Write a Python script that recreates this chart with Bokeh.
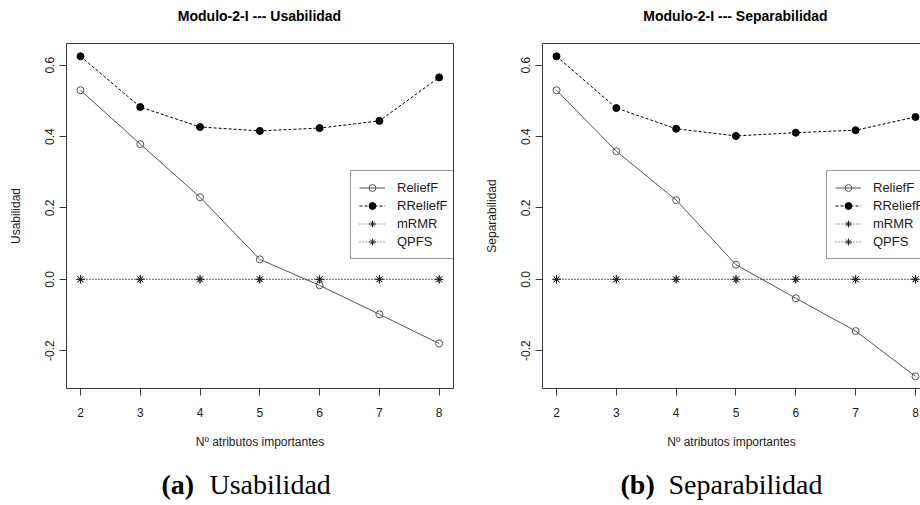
from bokeh.plotting import figure
from bokeh.layouts import row, column
from bokeh.models import (FixedTicker, Legend, LegendItem, LinearAxis, Range1d)
from bokeh.core.properties import value
from bokeh.embed import file_html
from bokeh.resources import INLINE

# ---- data ----
x_attr = [2, 3, 4, 5, 6, 7, 8]
x_tick_labels = ["2", "3", "4", "5", "6", "7", "8"]
y_ticks = [-0.2, 0.0, 0.2, 0.4, 0.6]
y_tick_labels = ["-0.2", "0.0", "0.2", "0.4", "0.6"]
series_names = ["ReliefF", "RReliefF", "mRMR", "QPFS"]

usab_relieff = [0.530, 0.379, 0.230, 0.056, -0.017, -0.098, -0.180]
usab_rrelieff = [0.625, 0.483, 0.427, 0.416, 0.424, 0.444, 0.566]
usab_mrmr = [0.0, 0.0, 0.0, 0.0, 0.0, 0.0, 0.0]
usab_qpfs = [0.0, 0.0, 0.0, 0.0, 0.0, 0.0, 0.0]

sep_relieff = [0.530, 0.359, 0.222, 0.041, -0.053, -0.145, -0.272]
sep_rrelieff = [0.625, 0.480, 0.422, 0.402, 0.411, 0.418, 0.455]
sep_mrmr = [0.0, 0.0, 0.0, 0.0, 0.0, 0.0, 0.0]
sep_qpfs = [0.0, 0.0, 0.0, 0.0, 0.0, 0.0, 0.0]

panel_titles = ["Modulo-2-I --- Usabilidad", "Modulo-2-I --- Separabilidad"]
panel_ylabels = ["Usabilidad", "Separabilidad"]
x_label = "Nº atributos importantes"
captions_tag = ["(a)", "(b)"]
captions_text = ["Usabilidad", "Separabilidad"]

SANS = "Liberation Sans"
SERIF = "Liberation Serif"
BOX = "#3a3a3a"
TXT = "#1a1a1a"
HEAD_H = 30
PANEL_H = 430
CAP_H = 45
FRAME_TOP = 43
FRAME_BOTTOM = 388


def make_panel(ylabel, relieff, rrelieff, mrmr, qpfs, frame_left, x_start, x_end,
               border_right, full_box):
    p = figure(width=460, height=PANEL_H, output_backend="svg", toolbar_location=None,
               x_range=Range1d(x_start, x_end), y_range=Range1d(-0.306, 0.661),
               min_border_left=frame_left, min_border_right=border_right,
               min_border_top=FRAME_TOP - HEAD_H,
               min_border_bottom=HEAD_H + PANEL_H - FRAME_BOTTOM)
    p.background_fill_color = "white"
    p.border_fill_color = "white"
    p.grid.visible = False

    xax = p.below[0]
    yax = p.left[0]
    xax.ticker = FixedTicker(ticks=x_attr)
    xax.major_label_overrides = {t: s for t, s in zip(x_attr, x_tick_labels)}
    yax.ticker = FixedTicker(ticks=y_ticks)
    yax.major_label_overrides = {t: s for t, s in zip(y_ticks, y_tick_labels)}
    for ax in (xax, yax):
        ax.major_tick_out = 7
        ax.major_tick_in = 0
        ax.minor_tick_out = 0
        ax.minor_tick_in = 0
        ax.major_tick_line_color = BOX
        ax.major_label_text_font = SANS
        ax.major_label_text_font_size = "12px"
        ax.major_label_text_color = TXT
        ax.axis_label_text_font = SANS
        ax.axis_label_text_font_size = "12px"
        ax.axis_label_text_font_style = "normal"
        ax.axis_label_text_color = TXT
    xax.axis_label = x_label
    xax.major_label_standoff = 12
    xax.axis_label_standoff = 15
    yax.axis_label = ylabel
    yax.major_label_orientation = "vertical"
    yax.major_label_standoff = 5
    yax.axis_label_standoff = 20

    if full_box:
        p.outline_line_color = BOX
        p.outline_line_width = 1
        p.outline_line_alpha = 1
        xax.axis_line_color = None
        yax.axis_line_color = None
    else:
        p.outline_line_color = None
        xax.axis_line_color = BOX
        yax.axis_line_color = BOX
        top = LinearAxis(ticker=FixedTicker(ticks=[]), major_tick_out=0, major_tick_in=0,
                         minor_tick_out=0, minor_tick_in=0, axis_line_color=BOX,
                         major_label_text_font_size="0px", major_label_standoff=0,
                         axis_label=None)
        p.add_layout(top, "above")

    r1l = p.line(x_attr, relieff, line_color="#555555", line_width=1)
    r1m = p.scatter(x_attr, relieff, marker="circle", size=7, fill_color=None,
                    line_color="#555555", line_width=1)
    r2l = p.line(x_attr, rrelieff, line_color="black", line_width=1, line_dash="3 2")
    r2m = p.scatter(x_attr, rrelieff, marker="circle", size=7, fill_color="black",
                    line_color="black")
    r3l = p.line(x_attr, mrmr, line_color="#444444", line_width=1, line_dash="1 2")
    r3m = p.scatter(x_attr, mrmr, marker="asterisk", size=8, line_color="#222222",
                    line_width=1)
    r4l = p.line(x_attr, qpfs, line_color="#444444", line_width=1, line_dash="1 2")
    r4m = p.scatter(x_attr, qpfs, marker="asterisk", size=8, line_color="#222222",
                    line_width=1)

    items = [LegendItem(label=series_names[0], renderers=[r1l, r1m]),
             LegendItem(label=series_names[1], renderers=[r2l, r2m]),
             LegendItem(label=series_names[2], renderers=[r3l, r3m]),
             LegendItem(label=series_names[3], renderers=[r4l, r4m])]
    leg = Legend(items=items, location=(284, 129), orientation="vertical",
                 glyph_width=26, glyph_height=17, label_height=17, spacing=1,
                 padding=8, margin=0, label_standoff=12, label_width=51,
                 label_text_font=SANS, label_text_font_size="13px",
                 label_text_color=TXT, border_line_color=BOX, border_line_width=1,
                 background_fill_color="white", background_fill_alpha=1)
    p.add_layout(leg, "center")
    return p


def blank(height, frame_left, border_right):
    fw = 460 - frame_left - border_right
    c = figure(width=460, height=height, output_backend="svg", toolbar_location=None,
               x_range=Range1d(0, fw), y_range=Range1d(0, height),
               x_axis_type=None, y_axis_type=None,
               min_border_left=frame_left, min_border_right=border_right,
               min_border_top=0, min_border_bottom=0)
    c.outline_line_color = None
    c.grid.visible = False
    c.background_fill_color = "white"
    c.border_fill_color = "white"
    return c


def make_header(title, frame_left, border_right, center_x):
    h = blank(HEAD_H, frame_left, border_right)
    h.text(x=[center_x - frame_left], y=[HEAD_H - 15], text=[title], text_font=value(SANS),
           text_font_style="bold", text_font_size="14px", text_color="black",
           text_baseline="middle", text_align="center")
    return h


def make_caption(tag, text, frame_left, border_right, tag_x, text_x):
    c = blank(CAP_H, frame_left, border_right)
    c.text(x=[tag_x - frame_left], y=[21], text=[tag], text_font=value(SERIF),
           text_font_style="bold", text_font_size="28px", text_color="black",
           text_baseline="middle", text_align="left")
    c.text(x=[text_x - frame_left], y=[21], text=[text], text_font=value(SERIF),
           text_font_style="normal", text_font_size="28px", text_color="black",
           text_baseline="middle", text_align="left")
    return c


h1 = make_header(panel_titles[0], 66, 7, 259)
h2 = make_header(panel_titles[1], 82, 0, 275)
p1 = make_panel(panel_ylabels[0], usab_relieff, usab_rrelieff, usab_mrmr, usab_qpfs,
                66, 1.766, 8.24, 7, True)
p2 = make_panel(panel_ylabels[1], sep_relieff, sep_rrelieff, sep_mrmr, sep_qpfs,
                82, 1.766, 8.084, 0, False)
c1 = make_caption(captions_tag[0], captions_text[0], 66, 7, 161, 209)
c2 = make_caption(captions_tag[1], captions_text[1], 82, 0, 160, 208)

layout = column(row(h1, h2, spacing=0), row(p1, p2, spacing=0), row(c1, c2, spacing=0),
                spacing=0)
layout.margin = 0

open("out.html", "w").write(file_html(layout, INLINE))
